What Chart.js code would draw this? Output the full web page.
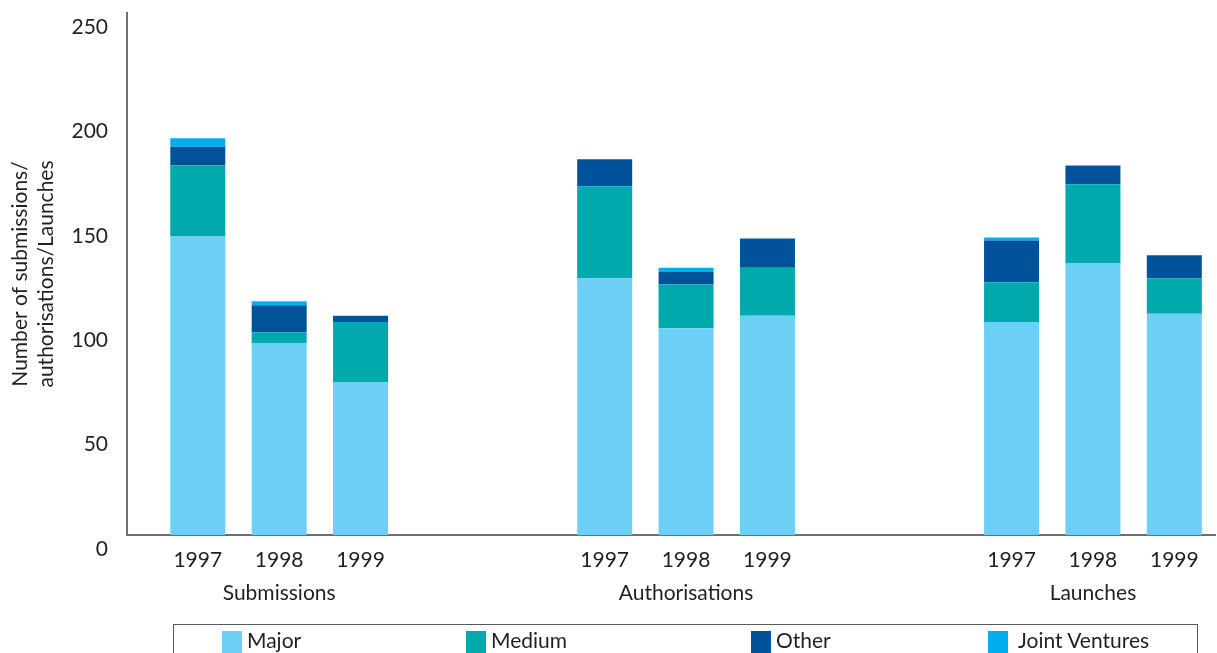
<!DOCTYPE html>
<html>
<head>
<meta charset="utf-8">
<script src="https://cdn.jsdelivr.net/npm/chart.js@4.4.0/dist/chart.umd.min.js"></script>
<style>
  html, body { margin: 0; padding: 0; background: #fff; }
  #wrap { position: relative; width: 1217px; height: 653px; overflow: hidden; }
  #legend {
    position: absolute; left: 173px; top: 624px; width: 1025px; height: 60px;
    border: 1.5px solid #58595b; box-sizing: border-box;
    font: 21px Lato, sans-serif; color: #231f20;
  }
  .item { position: absolute; top: 4px; display: flex; align-items: flex-start; line-height: 21px; white-space: nowrap; }
  .item:nth-child(1) { left: 48px; }
  .item:nth-child(2) { left: 292px; }
  .item:nth-child(3) { left: 577px; }
  .item:nth-child(4) { left: 814px; }
  .swatch { width: 20px; height: 24px; margin-top: 2px; margin-right: 5px; }
  .item:nth-child(4) .swatch { margin-right: 10px; }
</style>
</head>
<body>
<div id="wrap">
  <canvas id="chart" width="1217" height="653"></canvas>
  <div id="legend"></div>
</div>
<script>
const years = ['1997', '1998', '1999']
const groups = ['Submissions', 'Authorisations', 'Launches']

// one value per bar: Submissions 97-99, Authorisations 97-99, Launches 97-99
const major = [143, 92, 73, 123, 99, 105, 102, 130, 106]
const medium = [34, 5, 29, 44, 21, 23, 19, 38, 17]
const other = [9, 13, 3, 13, 6, 14, 20, 9, 11]
const jointVentures = [4, 2, 0, 0, 2, 0, 1.5, 0, 0]

const seriesNames = ['Major', 'Medium', 'Other', 'Joint Ventures']
const seriesColors = ['#6ccff6', '#00a9ac', '#00539b', '#00aeef']
const yTicks = [0, 50, 100, 150, 200, 250]

const BLANKS = 2        // empty slots between groups
const LEFT_ROOM = 0.37  // extra room before the first bar, in slots
const textColor = '#231f20'
const axisColor = '#6d6e71'

// x labels: year under each bar, group name under the middle one
let labels = []
groups.forEach((g, gi) => {
    years.forEach((y, yi) => labels.push(yi === 1 ? [y, g] : y))
    if (gi < groups.length - 1) {
        for (let b = 0; b < BLANKS; b++) labels.push('')
    }
})

let spread = (values) => {
    let out = []
    groups.forEach((g, gi) => {
        years.forEach((y, yi) => out.push(values[gi * years.length + yi]))
        if (gi < groups.length - 1) {
            for (let b = 0; b < BLANKS; b++) out.push(null)
        }
    })
    return out
}

let series = [major, medium, other, jointVentures]

let datasets = series.map((values, i) => ({
    label: seriesNames[i],
    data: spread(values),
    backgroundColor: seriesColors[i],
    borderWidth: 0,
    barPercentage: 0.676,
    categoryPercentage: 1
}))

const ctx = document.getElementById('chart')

new Chart(ctx, {
    type: 'bar',
    data: { labels: labels, datasets: datasets },
    options: {
        responsive: false,
        animation: false,
        devicePixelRatio: 1,
        layout: { padding: { top: 13, right: 2, bottom: 38, left: 0 } },
        plugins: {
            legend: { display: false },
            tooltip: { enabled: false }
        },
        scales: {
            x: {
                stacked: true,
                grid: { display: false, drawTicks: false },
                border: { color: axisColor, width: 2 },
                ticks: {
                    color: textColor,
                    font: { family: 'Lato', size: 21, lineHeight: 1.55 },
                    padding: 9,
                    maxRotation: 0,
                    minRotation: 0,
                    autoSkip: false
                },
                afterBuildTicks: (scale) => {
                    scale._startValue -= LEFT_ROOM
                    scale._valueRange += LEFT_ROOM
                },
                afterFit: (scale) => { scale.height = 80 }
            },
            y: {
                stacked: true,
                min: yTicks[0],
                max: yTicks[yTicks.length - 1],
                // tick marks are not drawn, their length only spaces the labels
                grid: { display: false, drawTicks: true, tickLength: 19 },
                border: { color: axisColor, width: 2 },
                ticks: {
                    stepSize: yTicks[1] - yTicks[0],
                    color: textColor,
                    font: { family: 'Lato', size: 21 },
                    padding: 0,
                    labelOffset: 14
                },
                title: {
                    display: true,
                    text: ['Number of submissions/', 'authorisations/Launches'],
                    color: textColor,
                    font: { family: 'Lato', size: 21, lineHeight: 1.2 },
                    padding: { top: 8, bottom: 0 }
                },
                afterFit: (scale) => { scale.width = 127 }
            }
        }
    }
})

let legend = document.getElementById('legend')
seriesNames.forEach((name, i) => {
    legend.innerHTML += `<div class="item"><span class="swatch" style="background:${seriesColors[i]}"></span><span>${name}</span></div>`
})
</script>
</body>
</html>
